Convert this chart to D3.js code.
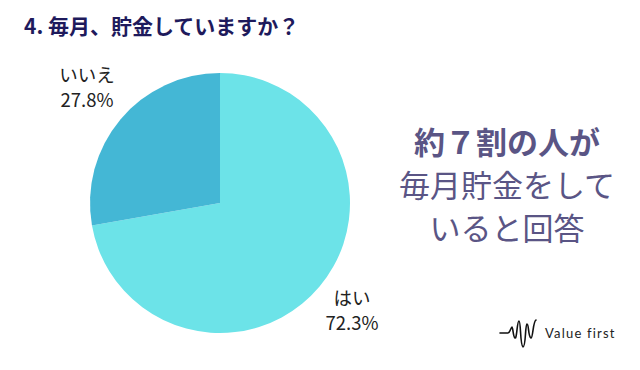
<!DOCTYPE html>
<html lang="ja">
<head>
<meta charset="utf-8">
<title>毎月、貯金していますか？</title>
<script src="https://cdn.jsdelivr.net/npm/d3@7"></script>
<style>
  body { margin: 0; background: #fff; }
  svg { display: block; font-family: "Noto Sans CJK JP", "Noto Sans", sans-serif; }
</style>
</head>
<body>
<div id="chart"></div>
<script>
var categories = ["はい", "いいえ"];
var values = [72.3, 27.8];
var colors = ["#6ce3e8", "#44b7d5"];
var title = "4. 毎月、貯金していますか？";
var summary = ["約７割の人が", "毎月貯金をして", "いると回答"];

var width = 640, height = 370;
var cx = 220, cy = 203, r = 130;

var svg = d3.select("#chart").append("svg")
    .attr("width", width)
    .attr("height", height);

svg.append("text")
    .attr("x", 24).attr("y", 34)
    .attr("font-size", 21).attr("font-weight", 700)
    .attr("fill", "#1e1a5c")
    .text(title);

var pie = d3.pie().sort(null).value(function(d) { return d; });
var arc = d3.arc().innerRadius(0).outerRadius(r);
var arcs = pie(values);

var g = svg.append("g").attr("transform", "translate(" + cx + "," + cy + ")");
g.selectAll("path")
    .data(arcs)
  .enter().append("path")
    .attr("d", arc)
    .attr("fill", function(d, i) { return colors[i]; });

// labels outside the slices
var labelPos = [[352, 305], [87, 82]];
var lab = svg.selectAll(".lab")
    .data(arcs)
  .enter().append("text")
    .attr("class", "lab")
    .attr("text-anchor", "middle")
    .attr("font-size", 18.5)
    .attr("fill", "#222");
lab.append("tspan")
    .attr("x", function(d, i) { return labelPos[i][0]; })
    .attr("y", function(d, i) { return labelPos[i][1]; })
    .text(function(d, i) { return categories[i]; });
lab.append("tspan")
    .attr("x", function(d, i) { return labelPos[i][0]; })
    .attr("dy", 25)
    .text(function(d) { return d.data.toFixed(1) + "%"; });

svg.selectAll(".sum")
    .data(summary)
  .enter().append("text")
    .attr("class", "sum")
    .attr("x", 507)
    .attr("y", function(d, i) { return 154 + i * 43; })
    .attr("text-anchor", "middle")
    .attr("font-size", 31)
    .attr("font-weight", function(d, i) { return i === 0 ? 700 : 400; })
    .attr("fill", "#5a5585")
    .text(function(d) { return d; });

// logo
var logo = svg.append("g").attr("transform", "translate(500,333)");
logo.append("path")
    .attr("d", "M0,0 L8,0 C10,0 11,-6 12,-6 C13,-6 13,4 15,5 C17,6 17,-12 19,-12 C21,-12 20,13 23,14 C26,14 25,-8 27,-9 C29,-9 28,4 31,5 C33,5 33,-12 36,-13")
    .attr("fill", "none")
    .attr("stroke", "#111")
    .attr("stroke-width", 1.6)
    .attr("stroke-linecap", "round");
logo.append("text")
    .attr("x", 45).attr("y", 5)
    .attr("font-size", 13)
    .attr("letter-spacing", 1.2)
    .attr("font-family", "Lato, 'Noto Sans', sans-serif")
    .attr("fill", "#222")
    .text("Value first");
</script>
</body>
</html>
